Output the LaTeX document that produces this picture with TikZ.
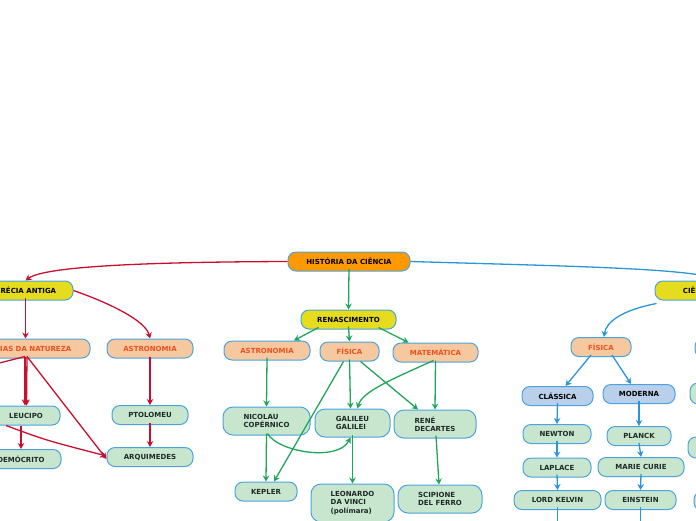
\documentclass[tikz,border=0pt]{standalone}
\usepackage{fontspec}
\setmainfont{DejaVu Sans}
\usetikzlibrary{arrows.meta}

\definecolor{rootorange}{HTML}{FF9900}
\definecolor{erayellow}{HTML}{E6DC1E}
\definecolor{areapeach}{HTML}{F5C8A0}
\definecolor{areatext}{HTML}{F0501E}
\definecolor{branchblue}{HTML}{BACFEA}
\definecolor{persongreen}{HTML}{C8E6CE}
\definecolor{nodeborder}{HTML}{4AA3DF}
\definecolor{textdark}{HTML}{1E2A28}
\definecolor{linered}{HTML}{C8102E}
\definecolor{linegreen}{HTML}{1FA65A}
\definecolor{lineblue}{HTML}{2A96D9}

\tikzset{topic/.style = {draw=nodeborder, line width=1pt, rounded corners=8pt,
                         minimum height=19pt, inner sep=1.5pt, text=textdark,
                         font=\fontsize{7}{8.4}\selectfont\bfseries},
         root/.style = {topic, fill=rootorange, text=black},
         era/.style = {topic, fill=erayellow, text=black},
         area/.style = {topic, fill=areapeach, text=areatext},
         branch/.style = {topic, fill=branchblue, text=black},
         person/.style = {topic, fill=persongreen},
         tall/.style = {rounded corners=10pt, align=left},
         tip/.style = {-{Stealth[length=6pt,width=6.5pt,inset=2pt]}},
         redline/.style = {draw=linered, line width=1.3pt, tip},
         greenline/.style = {draw=linegreen, line width=1.3pt, tip},
         blueline/.style = {draw=lineblue, line width=1.3pt, tip}}

\begin{document}
\begin{tikzpicture}[x=1pt, y=-1pt]
    \useasboundingbox (0, 0) rectangle (696, 520);
    \clip (0, 0) rectangle (696, 520);

    % root and first level
    \node [root, minimum width=122pt] (hist) at (349, 261.5) {HISTÓRIA DA CIÊNCIA};
    \node [era, minimum width=95pt] (gre) at (25.5, 290.5) {GRÉCIA ANTIGA};
    \node [era, minimum width=95pt] (renasc) at (348.5, 319.5) {RENASCIMENTO};
    \node [era, minimum width=130pt] (cien) at (720, 290.5) {CIÊNCIA MODERNA};

    % greece
    \node [area, minimum width=132pt] (cnat) at (24, 348.5) {CIÊNCIAS DA NATUREZA};
    \node [area, minimum width=86pt] (astL) at (150, 348.5) {ASTRONOMIA};
    \node [person, minimum width=68pt] (leu) at (26, 415.5) {LEUCIPO};
    \node [person, minimum width=80pt] (dem) at (21, 459) {DEMÓCRITO};
    \node [person, minimum width=76pt] (pto) at (150, 415) {PTOLOMEU};
    \node [person, minimum width=86pt] (arq) at (150, 457) {ARQUIMEDES};
    \coordinate (offleft) at (-60, 378);

    % renaissance
    \node [area, minimum width=86pt] (astM) at (267, 350.5) {ASTRONOMIA};
    \node [area, minimum width=59pt] (fisM) at (349.5, 351.5) {FÍSICA};
    \node [area, minimum width=85pt] (mat) at (435.5, 352.5) {MATEMÁTICA};
    \node [person, tall, minimum width=87pt, minimum height=28pt] (nic) at (266.5, 421) {NICOLAU\\COPÉRNICO};
    \node [person, tall, minimum width=75pt, minimum height=28pt] (gal) at (352.5, 423) {GALILEU\\GALILEI};
    \node [person, tall, minimum width=82pt, minimum height=28pt] (rene) at (435, 424) {RENÉ\\DECARTES};
    \node [person, minimum width=62pt] (kep) at (266, 491.5) {KEPLER};
    \node [person, tall, minimum width=83pt, minimum height=38pt] (leo) at (352.5, 503) {LEONARDO\\DA VINCI\\(polímara)};
    \node [person, tall, minimum width=84pt, minimum height=28pt] (sci) at (440, 499) {SCIPIONE\\DEL FERRO};

    % modern science
    \node [area, minimum width=60pt] (fisR) at (601, 347) {FÍSICA};
    \node [branch, minimum width=71pt] (cla) at (557.5, 396) {CLÁSSICA};
    \node [branch, minimum width=72pt] (mod) at (639, 394) {MODERNA};
    \node [person, minimum width=68pt] (new) at (557, 434) {NEWTON};
    \node [person, minimum width=64pt] (pla) at (639, 436) {PLANCK};
    \node [person, minimum width=68pt] (lap) at (557, 467.5) {LAPLACE};
    \node [person, minimum width=86pt] (mar) at (641, 467) {MARIE CURIE};
    \node [person, minimum width=87pt] (lor) at (557.5, 500) {LORD KELVIN};
    \node [person, minimum width=71pt] (ein) at (640.5, 500) {EINSTEIN};
    \coordinate (lorout) at (557.5, 540);
    \coordinate (einout) at (640.5, 540);

    % cut off at the right border
    \node [area, minimum width=80pt] (rA) at (735, 348) {};
    \node [person, minimum width=80pt, minimum height=21pt] (rB) at (730, 393.5) {};
    \node [person, minimum width=80pt, minimum height=21pt] (rC) at (728, 447.5) {};
    \node [person, minimum width=80pt] (rD) at (734, 501) {};

    % red branch
    \draw [redline] (hist.west) .. controls (150, 262) and (45, 266) .. (gre.north);
    \draw [redline] (gre.east) .. controls (115, 305) and (146, 322) .. (astL.north);
    \draw [redline] ([yshift=3pt]gre.south) -- ([xshift=1.5pt]cnat.north);
    \draw [redline] ([xshift=1pt, yshift=2pt]cnat.south) -- ([xshift=-1pt]leu.north);
    \draw [redline] ([xshift=3pt, yshift=2pt]cnat.south) -- ([xshift=0.5pt]leu.north);
    \draw [redline] ([xshift=1pt, yshift=2pt]cnat.south) -- (offleft);
    \draw [redline] ([xshift=3pt, yshift=2pt]cnat.south) -- ([yshift=-2pt]arq.west);
    \draw [redline] ([xshift=-20pt]leu.south) .. controls (45, 440) .. ([yshift=1pt]arq.west);
    \draw [redline] ([xshift=-5pt]leu.south) -- (dem.north);
    \foreach \a/\b in {astL/pto, pto/arq} {
      \draw [redline] ([yshift=2pt]\a.south) -- (\b.north);
    }

    % green branch
    \draw [greenline] ([yshift=3pt]hist.south) -- (renasc.north);
    \draw [greenline] ([xshift=-30pt, yshift=2pt]renasc.south) -- ([xshift=27pt]astM.north);
    \draw [greenline] ([yshift=3pt]renasc.south) -- (fisM.north);
    \draw [greenline] ([xshift=30pt, yshift=2pt]renasc.south) -- ([xshift=-27pt]mat.north);
    \draw [greenline] ([yshift=3pt]astM.south) -- (nic.north);
    \draw [greenline] ([xshift=-6pt]fisM.south) -- ([xshift=8pt]kep.north);
    \draw [greenline] ([yshift=2pt]fisM.south) -- ([xshift=-2pt]gal.north);
    \draw [greenline] ([xshift=11pt]fisM.south) -- ([xshift=-17pt]rene.north);
    \draw [greenline] ([xshift=-2pt, yshift=2pt]mat.south) .. controls (390, 380) and (362, 392) .. ([xshift=5pt]gal.north);
    \draw [greenline] ([yshift=2pt]mat.south) -- (rene.north);
    \draw [greenline] ([yshift=2pt]nic.south) -- (kep.north);
    \draw [greenline] ([xshift=1pt, yshift=2pt]nic.south) .. controls (278, 452) and (338, 462) .. ([xshift=-2pt]gal.south);
    \draw [greenline] ([yshift=3pt]gal.south) -- (leo.north);
    \draw [greenline] ([xshift=1pt, yshift=3pt]rene.south) -- ([xshift=-1pt]sci.north);

    % blue branch
    \draw [blueline] (hist.east) .. controls (560, 266) and (690, 268) .. (cien.north);
    \draw [blueline] ([xshift=2pt, yshift=-3pt]cien.south west) .. controls (622, 310) and (606, 322) .. ([xshift=3pt]fisR.north);
    \draw [blueline] ([xshift=-10pt, yshift=2pt]fisR.south) -- ([xshift=8pt]cla.north);
    \draw [blueline] ([xshift=11pt, yshift=2pt]fisR.south) -- ([xshift=-8pt]mod.north);
    \foreach \a/\b in {cla/new, new/lap, lap/lor, mod/pla, pla/mar, mar/ein} {
      \draw [blueline] ([yshift=3pt]\a.south) -- (\b.north);
    }
    \foreach \a/\b in {lor/lorout, ein/einout} {
      \draw [blueline] ([yshift=3pt]\a.south) -- (\b);
    }
\end{tikzpicture}
\end{document}
